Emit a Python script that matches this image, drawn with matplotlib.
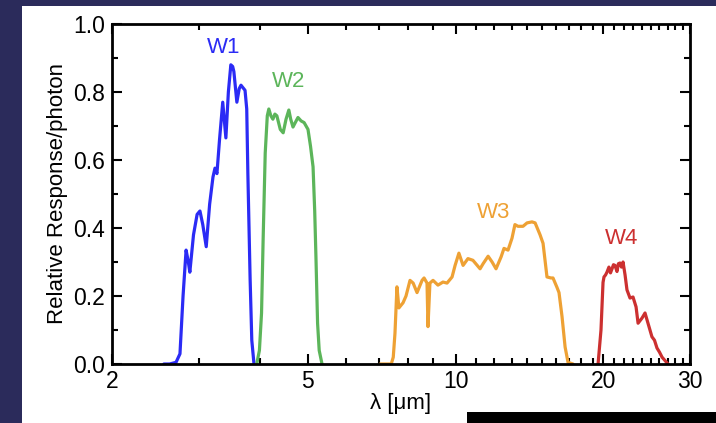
import matplotlib
matplotlib.use("Agg")
import matplotlib.pyplot as plt
from matplotlib.patches import Rectangle
from matplotlib.ticker import FixedLocator, FixedFormatter, NullFormatter
import numpy as np

plt.rcParams['font.family'] = ['Liberation Sans', 'DejaVu Sans']

# WISE relative response per photon
w1_lam = [2.55, 2.62, 2.70, 2.75, 2.79, 2.83, 2.86, 2.88, 2.93, 2.98, 3.02, 3.06, 3.11,
          3.16, 3.21, 3.24, 3.27, 3.31, 3.36, 3.41, 3.45, 3.49, 3.52, 3.54, 3.59, 3.63,
          3.66, 3.73, 3.76, 3.78, 3.82, 3.85, 3.89]
w1_resp = [0.0, 0.0, 0.005, 0.03, 0.2, 0.335, 0.30, 0.27, 0.38, 0.44, 0.45, 0.41, 0.345,
           0.47, 0.55, 0.576, 0.56, 0.66, 0.77, 0.665, 0.80, 0.88, 0.875, 0.86, 0.77, 0.81,
           0.82, 0.805, 0.75, 0.56, 0.25, 0.07, 0.0]

w2_lam = [3.94, 3.99, 4.03, 4.06, 4.10, 4.14, 4.17, 4.21, 4.25, 4.29, 4.33, 4.40, 4.46,
          4.52, 4.58, 4.62, 4.67, 4.72, 4.78, 4.85, 4.92, 5.01, 5.07, 5.13, 5.17, 5.20,
          5.24, 5.28, 5.35]
w2_resp = [0.0, 0.04, 0.15, 0.365, 0.62, 0.73, 0.75, 0.73, 0.72, 0.735, 0.73, 0.69, 0.68,
           0.72, 0.747, 0.72, 0.697, 0.71, 0.725, 0.715, 0.71, 0.69, 0.64, 0.58, 0.45, 0.315,
           0.12, 0.04, 0.0]

w3_lam = [7.02, 7.40, 7.47, 7.53, 7.60, 7.67, 7.82, 7.93, 8.08, 8.20, 8.35, 8.55, 8.63,
          8.75, 8.79, 8.87, 9.00, 9.21, 9.43, 9.61, 9.84, 9.98, 10.16, 10.36, 10.60,
          10.85, 11.22, 11.38, 11.65, 11.87, 12.09, 12.38, 12.55, 12.79, 13.03, 13.21,
          13.40, 13.72, 13.98, 14.31, 14.52, 14.86, 15.07, 15.35, 15.64, 15.79, 16.09,
          16.24, 16.47, 16.71, 16.94, 17.34]
w3_resp = [0.0, 0.0, 0.02, 0.09, 0.227, 0.165, 0.18, 0.2, 0.246, 0.238, 0.21, 0.246, 0.253,
           0.238, 0.11, 0.238, 0.246, 0.232, 0.241, 0.238, 0.256, 0.29, 0.326, 0.29, 0.31,
           0.305, 0.28, 0.295, 0.317, 0.30, 0.28, 0.315, 0.34, 0.335, 0.37, 0.41,
           0.405, 0.405, 0.415, 0.418, 0.415, 0.38, 0.355, 0.256, 0.253, 0.253, 0.225,
           0.21, 0.14, 0.05, 0.005, 0.0]

w4_lam = [19.50, 19.77, 19.96, 20.05, 20.20, 20.33, 20.52, 20.67, 20.82, 20.96, 21.11,
          21.31, 21.45, 21.61, 21.76, 21.92, 22.13, 22.33, 22.65, 22.97, 23.30, 23.52,
          23.96, 24.30, 24.64, 25.10, 25.40, 25.70, 26.00, 26.32, 26.69, 27.06]
w4_resp = [0.0, 0.1, 0.24, 0.256, 0.262, 0.27, 0.285, 0.268, 0.28, 0.292, 0.29,
           0.272, 0.295, 0.297, 0.285, 0.30, 0.262, 0.218, 0.194, 0.197, 0.168, 0.12,
           0.135, 0.15, 0.12, 0.08, 0.07, 0.047, 0.035, 0.02, 0.01, 0.0]

bands = ['W1', 'W2', 'W3', 'W4']
colors = ['#2b2bf5', '#5cb55a', '#eea134', '#cc3030']
label_pos = [(3.38, 0.93), (4.58, 0.83), (11.98, 0.447), (21.8, 0.37)]

fig = plt.figure(figsize=(7.16, 4.23), dpi=100)
fig.patch.set_facecolor('#2b2b5b')
# white slide panel and black bar
fig.patches.append(Rectangle((22 / 716, 0), 1, 1 - 6 / 423, transform=fig.transFigure,
                             facecolor='white', edgecolor='none', zorder=-3))
fig.patches.append(Rectangle((467 / 716, 0), 1, 11 / 423, transform=fig.transFigure,
                             facecolor='black', edgecolor='none', zorder=-2))

ax = fig.add_axes([112 / 716, 1 - 364 / 423, 578 / 716, 340 / 423])
ax.set_facecolor('white')

for lam, resp, c in zip([w1_lam, w2_lam, w3_lam, w4_lam],
                        [w1_resp, w2_resp, w3_resp, w4_resp], colors):
    ax.plot(lam, resp, color=c, lw=2.3, solid_joinstyle='round', solid_capstyle='round')

for name, c, (lx, ly) in zip(bands, colors, label_pos):
    ax.text(lx, ly, name, color=c, fontsize=16, ha='center', va='center')

ax.set_xscale('log')
ax.set_xlim(2, 30)
ax.set_ylim(0, 1.0)
ax.xaxis.set_major_locator(FixedLocator([2, 5, 10, 20, 30]))
ax.xaxis.set_major_formatter(FixedFormatter(['2', '5', '10', '20', '30']))
ax.xaxis.set_minor_locator(FixedLocator([3, 4, 6, 7, 8, 9] + list(range(11, 20)) + list(range(21, 30))))
ax.xaxis.set_minor_formatter(NullFormatter())
ax.set_yticks(np.arange(0, 1.01, 0.2))
ax.set_yticks(np.arange(0, 1.01, 0.1), minor=True)
ax.set_yticklabels(['0.0', '0.2', '0.4', '0.6', '0.8', '1.0'])

ax.tick_params(which='both', direction='in', top=True, right=True, width=1.5,
               labelsize=16.5, colors='black')
ax.tick_params(which='major', length=7)
ax.tick_params(axis='y', which='major', pad=5)
ax.tick_params(axis='x', which='major', pad=4)
ax.tick_params(which='minor', length=4)
for s in ax.spines.values():
    s.set_linewidth(2)

ax.set_xlabel('λ [μm]', fontsize=16, labelpad=0)
ax.set_ylabel('Relative Response/photon', fontsize=16, labelpad=4)

fig.savefig('out.png', dpi=100, facecolor=fig.get_facecolor())
